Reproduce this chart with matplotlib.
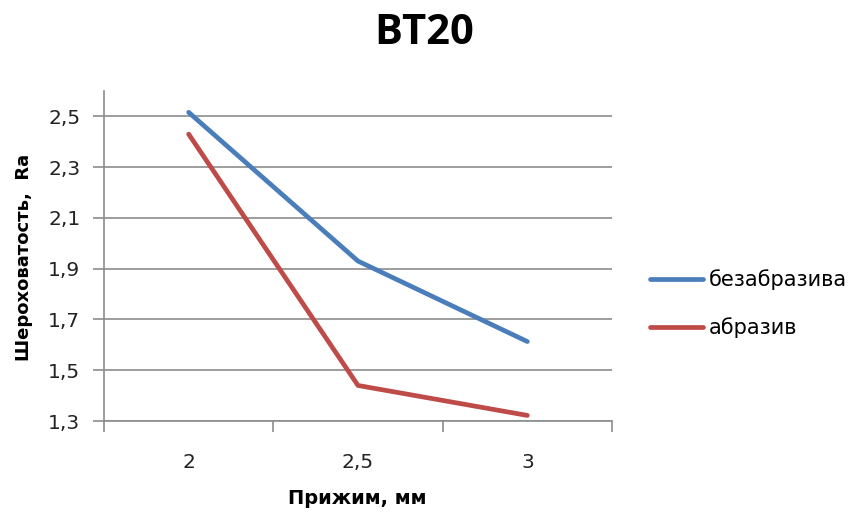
import matplotlib
matplotlib.use("Agg")
import matplotlib.pyplot as plt
import numpy as np

categories = ["2", "2,5", "3"]
bez_abraziva = [2.516, 1.93, 1.613]
abraziv = [2.43, 1.44, 1.322]
y_ticks = [1.3, 1.5, 1.7, 1.9, 2.1, 2.3, 2.5]

plt.rcParams["font.family"] = ["DejaVu Sans"]
GRID = "#8c8c8c"

fig = plt.figure(figsize=(8.57, 5.12), dpi=100)
ax = fig.add_axes([104 / 857, 91 / 512, 508 / 857, 330 / 512])

x = np.arange(len(categories))
ax.plot(x, bez_abraziva, color="#4a7ebb", lw=3.4, solid_capstyle="round",
        label="безабразива")
ax.plot(x, abraziv, color="#be4b48", lw=3.4, solid_capstyle="round",
        label="абразив")

ax.set_xlim(-0.5, len(categories) - 0.5)
ax.set_ylim(1.3, 2.6)
ax.set_yticks(y_ticks)
ax.set_yticklabels([f"{v:.1f}".replace(".", ",") for v in y_ticks])
ax.set_xticks(x)
ax.set_xticklabels(categories)
ax.set_xticks(np.arange(-0.5, len(categories)), minor=True)
ax.tick_params(axis="x", which="major", length=0, pad=23, labelsize=14.5,
               colors="#222222")
ax.tick_params(axis="x", which="minor", length=8, color=GRID, width=1.2)
ax.tick_params(axis="y", length=8, color=GRID, width=1.2, labelsize=14.5,
               colors="#222222", pad=9)
ax.grid(axis="y", color=GRID, lw=1.2)
ax.set_axisbelow(True)
for s in ["top", "right"]:
    ax.spines[s].set_visible(False)
for s in ["left", "bottom"]:
    ax.spines[s].set_color(GRID)
    ax.spines[s].set_linewidth(1.2)

fig.text(424 / 857, 1 - 34 / 512, "ВТ20", ha="center", va="center",
         fontsize=30, fontweight="bold", family=["Open Sans", "DejaVu Sans"])
fig.text(357 / 857, 1 - 498 / 512, "Прижим, мм", ha="center", va="center",
         fontsize=14, fontweight="bold")
fig.text(24 / 857, 1 - 257 / 512, "Шероховатость,  Ra", ha="center",
         va="center", rotation=90, fontsize=13, fontweight="bold")

ax.legend(loc="upper left", bbox_to_anchor=(640 / 857, 1 - 259 / 512),
          bbox_transform=fig.transFigure, frameon=False, fontsize=15,
          handlelength=2.5, handletextpad=0.3, labelspacing=1.3,
          borderpad=0)

fig.savefig("out.png", dpi=100)
